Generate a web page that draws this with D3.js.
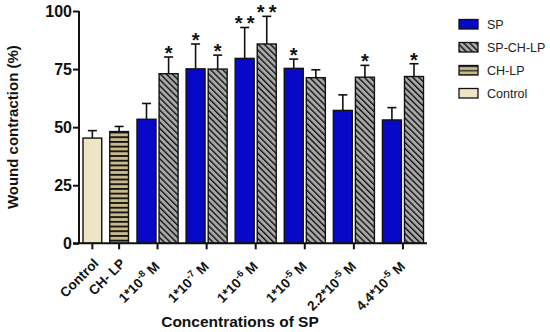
<!DOCTYPE html>
<html>
<head>
<meta charset="utf-8">
<script src="https://cdn.jsdelivr.net/npm/d3@7"></script>
<style>
  html, body { margin: 0; padding: 0; background: #fff; }
  svg { display: block; font-family: "Liberation Sans", Arial, sans-serif; }
</style>
</head>
<body>
<svg id="chart" width="550" height="332"></svg>
<script>
// ---- data ----
const controlCategories = ["Control", "CH- LP"];
const controlValues = [45.3, 48.1];
const controlErrors = [3.2, 2.2];

const groupMantissa = ["1", "1", "1", "1", "2.2", "4.4"];
const groupExponent = ["-8", "-7", "-6", "-5", "-5", "-5"];
const groupIds = ["g1", "g2", "g3", "g4", "g5", "g6"];

const seriesNames = ["SP", "SP-CH-LP"];
const spValues = [53.4, 75.1, 79.6, 75.3, 57.2, 53.1];
const spErrors = [6.8, 10.7, 13.3, 4.0, 6.7, 5.3];
const spStars = [0, 1, 2, 1, 0, 0];
const spchValues = [73.0, 75.0, 85.8, 71.3, 71.5, 71.8];
const spchErrors = [7.2, 6.0, 11.9, 3.4, 5.1, 5.5];
const spchStars = [1, 1, 2, 0, 1, 1];

const yTicks = [0, 25, 50, 75, 100];
const legendNames = ["SP", "SP-CH-LP", "CH-LP", "Control"];

// ---- setup ----
const svg = d3.select("#chart");
const defs = svg.append("defs");

const colors = { blue: "#0808c8", gray: "#a9a9a9", tan: "#c8ba8a", beige: "#eee4c6" };

// hatch pattern for SP-CH-LP
const hatch = defs.append("pattern").attr("id", "hatch")
  .attr("patternUnits", "userSpaceOnUse").attr("width", 4.3).attr("height", 4.3)
  .attr("patternTransform", "rotate(-45)");
hatch.append("rect").attr("width", 4.3).attr("height", 4.3).attr("fill", colors.gray);
hatch.append("line").attr("x1", 0.7).attr("y1", 0).attr("x2", 0.7).attr("y2", 4.3)
  .attr("stroke", "#111").attr("stroke-width", 1.4);

// horizontal stripes for CH-LP
const stripes = defs.append("pattern").attr("id", "stripes")
  .attr("patternUnits", "userSpaceOnUse").attr("width", 10).attr("height", 4.7);
stripes.append("rect").attr("width", 10).attr("height", 4.7).attr("fill", colors.tan);
stripes.append("rect").attr("y", 0).attr("width", 10).attr("height", 1.8).attr("fill", "#111");

const stripesLegend = defs.append("pattern").attr("id", "stripesLegend")
  .attr("patternUnits", "userSpaceOnUse").attr("width", 10).attr("height", 4.2);
stripesLegend.append("rect").attr("width", 10).attr("height", 4.2).attr("fill", colors.tan);
stripesLegend.append("rect").attr("y", 3).attr("width", 10).attr("height", 1.6).attr("fill", "#111");

// ---- scales ----
const y = d3.scaleLinear().domain([0, 100]).range([243.3, 11]);

const xCtrl = d3.scaleBand().domain(controlCategories).range([83, 128.5]).paddingInner(0.3);
const xGroup = d3.scaleBand().domain(groupIds).range([137, 423.5]).paddingInner(0.163);
const xSub = d3.scaleBand().domain(seriesNames).range([0, xGroup.bandwidth()]).paddingInner(0.14);

const axisLeft = 79, axisRight = 427;

// ---- bars ----
const controlData = controlCategories.map((c, i) => ({
  x: xCtrl(c), w: xCtrl.bandwidth(), v: controlValues[i], e: controlErrors[i],
  fill: i === 0 ? colors.beige : "url(#stripes)", stars: 0
}));
const groupData = [];
groupIds.forEach((g, i) => {
  groupData.push({ x: xGroup(g) + xSub("SP"), w: xSub.bandwidth(), v: spValues[i], e: spErrors[i], fill: colors.blue, stars: spStars[i] });
  groupData.push({ x: xGroup(g) + xSub("SP-CH-LP"), w: xSub.bandwidth(), v: spchValues[i], e: spchErrors[i], fill: "url(#hatch)", stars: spchStars[i] });
});
const allBars = controlData.concat(groupData);

// error bars
const eb = svg.append("g").attr("stroke", "#111").attr("stroke-width", 1.6);
allBars.forEach(d => {
  const cx = d.x + d.w / 2;
  eb.append("line").attr("x1", cx).attr("x2", cx).attr("y1", y(d.v)).attr("y2", y(d.v + d.e));
  eb.append("line").attr("x1", cx - 4.5).attr("x2", cx + 4.5).attr("y1", y(d.v + d.e)).attr("y2", y(d.v + d.e));
});

svg.append("g").selectAll("rect").data(allBars).join("rect")
  .attr("x", d => d.x).attr("width", d => d.w)
  .attr("y", d => y(d.v)).attr("height", d => y(0) - y(d.v))
  .attr("fill", d => d.fill).attr("stroke", "#111").attr("stroke-width", 1.4);

// stars
const starG = svg.append("g").attr("font-size", 20).attr("font-weight", "bold").attr("fill", "#111").attr("text-anchor", "middle");
allBars.filter(d => d.stars > 0).forEach(d => {
  const cx = d.x + d.w / 2;
  const offs = d.stars === 1 ? [0] : [-6, 6];
  offs.forEach(o => {
    starG.append("text").attr("x", cx + o).attr("y", y(d.v + d.e) + 3).text("*");
  });
});

// ---- axes ----
const yAxis = svg.append("g").attr("transform", `translate(${axisLeft},0)`)
  .call(d3.axisLeft(y).tickValues(yTicks).tickSize(6).tickPadding(1));
yAxis.select(".domain").attr("stroke", "#111").attr("stroke-width", 2).attr("d", `M0,${y(0)}V${y(100)}`);
yAxis.selectAll(".tick line").attr("stroke", "#111").attr("stroke-width", 2);
yAxis.selectAll(".tick text").attr("font-size", 16).attr("font-weight", "bold").attr("fill", "#111")
  .attr("font-family", "'Liberation Sans', Arial, sans-serif");

// x axis
const xg = svg.append("g");
xg.append("line").attr("x1", axisLeft - 6).attr("x2", axisRight).attr("y1", y(0)).attr("y2", y(0))
  .attr("stroke", "#111").attr("stroke-width", 2);
const tickXs = controlCategories.map(c => xCtrl(c) + xCtrl.bandwidth() / 2)
  .concat(groupIds.map(g => xGroup(g) + xGroup.bandwidth() / 2));
xg.selectAll("line.tk").data(tickXs).join("line").attr("class", "tk")
  .attr("x1", d => d).attr("x2", d => d).attr("y1", y(0)).attr("y2", y(0) + 6)
  .attr("stroke", "#111").attr("stroke-width", 2);

const labelG = svg.append("g").attr("font-size", 13.5).attr("font-weight", "bold").attr("fill", "#111");
controlCategories.forEach((c, i) => {
  labelG.append("text").attr("text-anchor", "end")
    .attr("transform", `translate(${tickXs[i] + 7},${y(0) + 21}) rotate(-45)`)
    .text(c);
});
groupIds.forEach((g, i) => {
  const t = labelG.append("text").attr("text-anchor", "end")
    .attr("transform", `translate(${tickXs[i + 2] + 3},${y(0) + 24}) rotate(-45)`);
  t.append("tspan").text(groupMantissa[i] + "*10");
  t.append("tspan").attr("font-size", 9.5).attr("dy", -5.5).text(groupExponent[i]);
  t.append("tspan").attr("dy", 5.5).text(" M");
});

// axis titles
svg.append("text").attr("x", 240).attr("y", 327).attr("text-anchor", "middle")
  .attr("font-size", 15.5).attr("font-weight", "bold").attr("fill", "#111").text("Concentrations of SP");
svg.append("text").attr("transform", `translate(18,${(y(0) + y(100)) / 2}) rotate(-90)`)
  .attr("text-anchor", "middle").attr("font-size", 15).attr("font-weight", "bold").attr("fill", "#111")
  .text("Wound contraction (%)");

// ---- legend ----
const legendFills = [colors.blue, "url(#hatch)", "url(#stripesLegend)", colors.beige];
const lg = svg.append("g");
legendNames.forEach((n, i) => {
  const cy = 24 + i * 23;
  lg.append("rect").attr("x", 459).attr("y", cy - 4.5).attr("width", 19).attr("height", 9.5)
    .attr("fill", legendFills[i]).attr("stroke", "#111").attr("stroke-width", 1.3);
  lg.append("text").attr("x", 487).attr("y", cy + 4.5).attr("font-size", 12.5).attr("fill", "#222").text(n);
});
</script>
</body>
</html>
